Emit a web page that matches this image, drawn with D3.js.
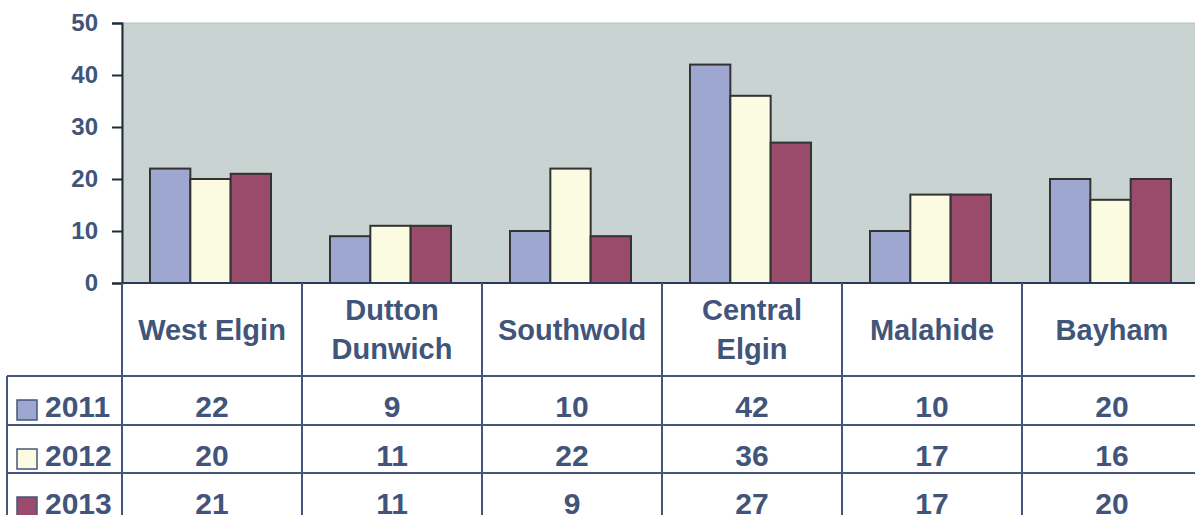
<!DOCTYPE html>
<html>
<head>
<meta charset="utf-8">
<script src="https://cdn.jsdelivr.net/npm/d3@7"></script>
<style>
  body { margin: 0; background: #fff; }
  text { font-family: "Liberation Sans", Arial, sans-serif; font-weight: bold; fill: #41557a; }
</style>
</head>
<body>
<div id="chart"></div>
<script>
// data
let categories = [["West Elgin"], ["Dutton", "Dunwich"], ["Southwold"], ["Central", "Elgin"], ["Malahide"], ["Bayham"]];
let years = ["2011", "2012", "2013"];
let values2011 = [22, 9, 10, 42, 10, 20];
let values2012 = [20, 11, 22, 36, 17, 16];
let values2013 = [21, 11, 9, 27, 17, 20];
let yTicks = [0, 10, 20, 30, 40, 50];

let series = [values2011, values2012, values2013];
let colors = ["#9da7cf", "#fafbe0", "#9a4b6b"];
let lineColor = "#44577a";

let width = 1195, height = 515;
let plotLeft = 122, plotTop = 23, plotBottom = 283;
let colW = 180;
let rowY = [376, 425, 473, 518];

let svg = d3.select("#chart").append("svg")
    .attr("width", width)
    .attr("height", height);

let x0 = d3.scaleBand()
    .domain(d3.range(categories.length))
    .range([plotLeft, plotLeft + colW * categories.length]);

let x1 = d3.scaleBand()
    .domain(years)
    .range([28, 149]);

let y = d3.scaleLinear()
    .domain([0, 50])
    .range([plotBottom, plotTop]);

// plot background
svg.append("rect")
    .attr("x", plotLeft)
    .attr("y", plotTop)
    .attr("width", width - plotLeft + 10)
    .attr("height", plotBottom - plotTop)
    .attr("fill", "#c9d3d1")
    .attr("stroke", "#b8c0c0");

// bars
series.forEach(function(vals, s) {
    svg.append("g").selectAll("rect")
        .data(vals)
        .enter()
        .append("rect")
        .attr("x", (d, i) => x0(i) + x1(years[s]))
        .attr("y", d => y(d))
        .attr("width", x1.bandwidth())
        .attr("height", d => y(0) - y(d))
        .attr("fill", colors[s])
        .attr("stroke", "#333")
        .attr("stroke-width", 2);
});

// y axis
let yAxis = d3.axisLeft(y)
    .tickValues(yTicks)
    .tickSize(10)
    .tickPadding(14);

let gy = svg.append("g")
    .attr("transform", `translate(${plotLeft},0)`)
    .call(yAxis);
gy.select(".domain").attr("stroke", "#1e2a3a").attr("stroke-width", 2);
gy.selectAll(".tick line").attr("stroke", "#1e2a3a").attr("stroke-width", 2);
gy.selectAll(".tick text")
    .attr("font-size", 24)
    .attr("fill", "#41557a")
    .attr("font-family", "Liberation Sans, Arial, sans-serif");

// x axis baseline
svg.append("line")
    .attr("x1", plotLeft).attr("x2", width)
    .attr("y1", plotBottom).attr("y2", plotBottom)
    .attr("stroke", "#2a3a55").attr("stroke-width", 2);

// data table lines
let grid = svg.append("g")
    .attr("stroke", lineColor)
    .attr("stroke-width", 2);

rowY.slice(0, 3).forEach(function(yy) {
    grid.append("line")
        .attr("x1", 7).attr("x2", width)
        .attr("y1", yy).attr("y2", yy);
});
grid.append("line")
    .attr("x1", 7).attr("x2", 7)
    .attr("y1", rowY[0]).attr("y2", height);

d3.range(categories.length + 1).forEach(function(i) {
    let xx = plotLeft + colW * i;
    grid.append("line")
        .attr("x1", xx).attr("x2", xx)
        .attr("y1", plotBottom).attr("y2", height);
});

// header labels
categories.forEach(function(lines, i) {
    let cx = x0(i) + colW / 2;
    let mid = (plotBottom + rowY[0]) / 2 + 10;
    lines.forEach(function(t, k) {
        svg.append("text")
            .attr("x", cx)
            .attr("y", mid + (k - (lines.length - 1) / 2) * 39)
            .attr("text-anchor", "middle")
            .attr("font-size", 29)
            .text(t);
    });
});

// rows
series.forEach(function(vals, s) {
    let baseline = rowY[s] + 41;
    svg.append("rect")
        .attr("x", 17)
        .attr("y", rowY[s] + 24)
        .attr("width", 20)
        .attr("height", 20)
        .attr("fill", colors[s])
        .attr("stroke", lineColor)
        .attr("stroke-width", 1.5);
    svg.append("text")
        .attr("x", 45)
        .attr("y", baseline)
        .attr("font-size", 30)
        .text(years[s]);
    vals.forEach(function(v, i) {
        svg.append("text")
            .attr("x", x0(i) + colW / 2)
            .attr("y", baseline)
            .attr("text-anchor", "middle")
            .attr("font-size", 30)
            .text(v);
    });
});
</script>
</body>
</html>
